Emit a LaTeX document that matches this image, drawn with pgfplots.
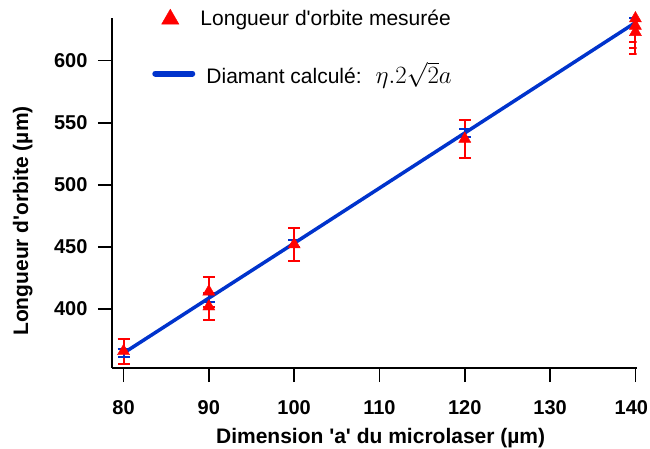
\documentclass[border=0pt]{standalone}
\usepackage{fontspec}
\setmainfont{Liberation Sans}[Ligatures=TeXOff]
\usepackage{pgfplots}
\pgfplotsset{compat=1.18}
\usepackage{pgfplotstable}
\definecolor{myred}{RGB}{255,0,0}
\definecolor{myblue}{RGB}{0,51,204}
\pgfplotstableread{
x y e
80 366 10
90 414 12
90 402 11
100 452 13
120 537 15
140 634 19
140 628 18
140 623 17.5
}\meas
\pgfplotstableread{
x y e
80 364.5 3
90 408.8 3
100 453 3
120 541.8 3
140 630.7 3.5
}\calcd
\begin{document}
\begin{tikzpicture}
\begin{axis}[name=ax, scale only axis, width=524.7pt, height=350pt,
 xmin=78.65, xmax=140.15, ymin=352.5, ymax=634.4,
 axis x line*=bottom, axis y line*=left,
 axis line style={line width=1.5pt},
 xtick={80,90,...,140}, ytick={400,450,...,600},
 xticklabels={80,90,100,110,120,130,{\kern-8pt 140}},
 tick align=outside, major tick length=14pt,
 every tick/.style={line width=1.5pt, black},
 tick label style={font=\fontsize{20}{24}\selectfont\bfseries},
 xticklabel style={yshift=-15pt},
 yticklabel style={xshift=-7pt},
 /pgf/number format/assume math mode=true,
 xlabel={Dimension 'a' du microlaser (µm)},
 ylabel={Longueur d'orbite (µm)},
 label style={font=\fontsize{21}{24}\selectfont\bfseries},
 xlabel style={at={(axis description cs:0.512,-0.2)}, anchor=center},
 ylabel style={at={(axis description cs:-0.17,0.42)}, anchor=center},
 legend style={at={(axis description cs:0.076,1.03)}, anchor=north west, draw=none, fill=none, inner sep=0pt, font=\fontsize{21}{24}\selectfont, row sep=31pt, column sep=3pt},
 legend cell align=left,
]
\addplot[only marks, mark=triangle*, mark size=7pt, color=myred, fill=myred,
  legend image code/.code={\path (0pt,0pt) (43pt,0pt); \draw[myred, fill=myred] plot[only marks, mark=triangle*, mark size=10pt] coordinates {(18pt,-1pt)};},
  error bars/.cd, y dir=both, y explicit,
  error bar style={line width=2pt, myred},
  error mark options={rotate=90, mark size=6pt, line width=2pt, myred}]
  table[x=x, y=y, y error=e]{\meas};
\addlegendentry{Longueur d'orbite mesurée}
\addplot[myblue, line width=3.5pt, mark=none,
  legend image code/.code={\draw[myblue, line width=6pt, line cap=round] (3pt,0pt) -- (40pt,0pt);},
  error bars/.cd, y dir=both, y explicit,
  error bar style={line width=2pt, myblue},
  error mark options={rotate=90, mark size=6pt, line width=2pt, myblue}]
  table[x=x, y=y, y error=e]{\calcd};
\addlegendentry{\hspace{6pt}Diamant calculé:\hspace{14pt}{\fontsize{23}{26}\selectfont$\eta.2\sqrt{2}a$}}
\end{axis}
\pgfresetboundingbox
\path ([shift={(-112pt,-80pt)}]ax.south west) rectangle ([shift={(538pt,368pt)}]ax.south west);
\end{tikzpicture}
\end{document}
